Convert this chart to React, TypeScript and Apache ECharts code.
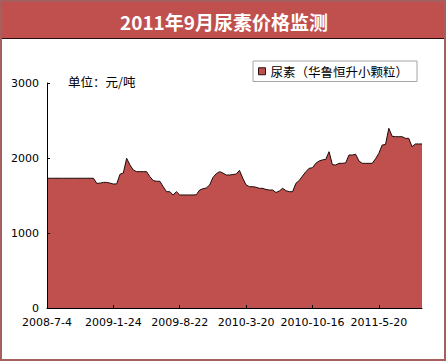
import React, { useEffect, useRef } from 'react';
import * as echarts from 'echarts';

const titleText = '2011年9月尿素价格监测';
const unitText = '单位：元/吨';
const seriesName = '尿素（华鲁恒升小颗粒）';
const tickLabels = ['2008-7-4', '2009-1-24', '2009-8-22', '2010-3-20', '2010-10-16', '2011-5-20'];
const TICK_STEP = 20;

const prices = [
  1730, 1730, 1730, 1730, 1730, 1730, 1730, 1730, 1730, 1730,
  1730, 1730, 1730, 1730, 1730, 1662, 1665, 1675, 1675, 1665,
  1653, 1655, 1783, 1800, 1996, 1907, 1840, 1818, 1818, 1818,
  1818, 1751, 1700, 1690, 1690, 1618, 1551, 1551, 1507, 1551,
  1507, 1507, 1507, 1507, 1507, 1510, 1573, 1590, 1600, 1640,
  1740, 1790, 1818, 1800, 1773, 1773, 1780, 1785, 1835, 1730,
  1640, 1618, 1618, 1610, 1596, 1596, 1580, 1573, 1573, 1540,
  1560, 1596, 1564, 1551, 1551, 1662, 1700, 1760, 1818, 1862,
  1870, 1929, 1960, 1975, 1982, 2084, 1910, 1907, 1929, 1929,
  1935, 2040, 2040, 2050, 1960, 1929, 1929, 1929, 1929, 1990,
  2062, 2173, 2180, 2396, 2290, 2284, 2284, 2284, 2262, 2262,
  2151, 2187, 2187, 2187,
];

const categories = prices.map((_, i) => String(i));

export default function App() {
  const ref = useRef<HTMLDivElement>(null);
  useEffect(() => {
    if (!ref.current) return;
    const chart = echarts.init(ref.current, undefined, { renderer: 'svg' });
    chart.setOption({
      animation: false,
      backgroundColor: '#ffffff',
      grid: { left: 47, right: 26, top: 83, bottom: 56, containLabel: false },
      legend: {
        data: [seriesName],
        left: 253,
        top: 61,
        padding: [4, 9, 4, 5],
        borderColor: '#a6a6a6',
        borderWidth: 1,
        icon: 'rect',
        itemWidth: 7,
        itemHeight: 7,
        itemStyle: { color: '#C0504D', borderColor: '#2b0f0f', borderWidth: 1 },
        textStyle: { fontSize: 12.5, fontFamily: 'Noto Sans CJK SC', color: '#000' },
      },
      xAxis: {
        type: 'category',
        boundaryGap: false,
        data: categories,
        z: 10,
        axisLine: { show: true, lineStyle: { color: '#000', width: 1 } },
        axisTick: { show: true, inside: true, length: 3, interval: TICK_STEP - 1, lineStyle: { color: '#000' } },
        axisLabel: {
          interval: TICK_STEP - 1,
          margin: 9,
          fontSize: 11,
          fontFamily: 'DejaVu Sans',
          color: '#000',
          formatter: (_v: string, idx: number) =>
            idx % TICK_STEP === 0 ? tickLabels[idx / TICK_STEP] ?? '' : '',
        },
        splitLine: { show: false },
      },
      yAxis: {
        type: 'value',
        min: 0,
        max: 3000,
        interval: 1000,
        z: 10,
        axisLine: { show: true, lineStyle: { color: '#000', width: 1 } },
        axisTick: { show: true, inside: true, length: 3, lineStyle: { color: '#000' } },
        axisLabel: {
          margin: 8,
          fontSize: 11,
          fontFamily: 'DejaVu Sans',
          color: '#000',
          formatter: (v: number) => String(v),
        },
        splitLine: { show: false },
      },
      series: [
        {
          name: seriesName,
          type: 'line',
          data: prices,
          symbol: 'none',
          lineStyle: { color: '#1a0a0a', width: 1 },
          itemStyle: { color: '#C0504D' },
          areaStyle: { color: '#C0504D', opacity: 1 },
        },
      ],
      graphic: [
        {
          type: 'rect',
          shape: { x: 1, y: 1, width: 444, height: 359 },
          style: { fill: 'none', stroke: '#A65F5F', lineWidth: 2 },
          z: 100,
        },
        {
          type: 'rect',
          shape: { x: 0, y: 0, width: 446, height: 38 },
          style: { fill: '#C0504D' },
          z: 90,
        },
        {
          type: 'line',
          shape: { x1: 0, y1: 38.5, x2: 446, y2: 38.5 },
          style: { stroke: '#2a0d0d', lineWidth: 1 },
          z: 95,
        },
        {
          type: 'text',
          x: 224,
          y: 21,
          style: {
            text: titleText,
            fill: '#ffffff',
            font: 'bold 19px "Noto Sans CJK SC", sans-serif',
            textAlign: 'center',
            textVerticalAlign: 'middle',
          },
          z: 96,
        },
        {
          type: 'text',
          x: 68,
          y: 81,
          style: {
            text: unitText,
            fill: '#000',
            font: '12.5px "Noto Sans CJK SC", sans-serif',
            textAlign: 'left',
            textVerticalAlign: 'middle',
          },
          z: 96,
        },
      ],
    });
    return () => chart.dispose();
  }, []);
  return (
    <div
      ref={ref}
      style={{ position: 'fixed', left: 0, top: 0, width: 448, height: 364, background: '#fff' }}
    />
  );
}
